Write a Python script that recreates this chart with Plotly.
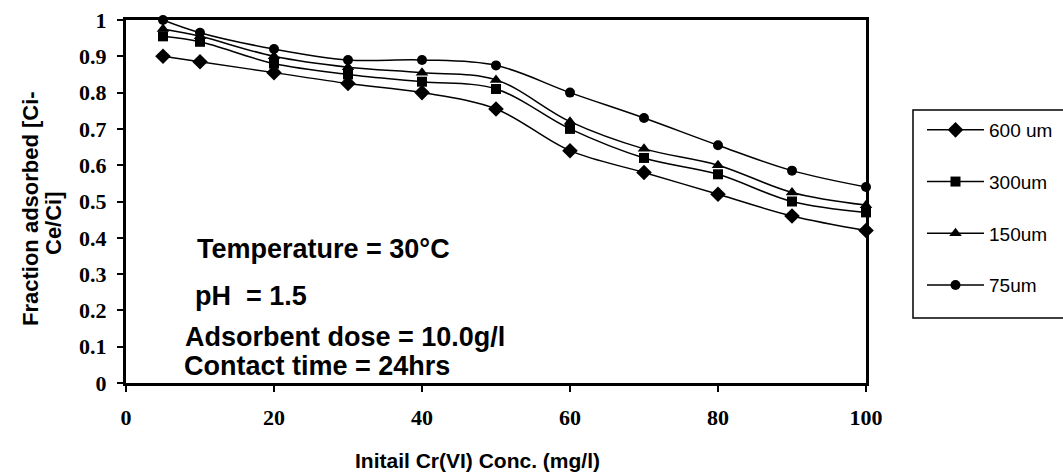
import plotly.graph_objects as go

# Initial Cr(VI) concentration (mg/l)
conc = [5, 10, 20, 30, 40, 50, 60, 70, 80, 90, 100]

# Fraction adsorbed for each particle size
frac_600 = [0.90, 0.885, 0.855, 0.825, 0.80, 0.755, 0.64, 0.58, 0.52, 0.46, 0.42]
frac_300 = [0.955, 0.94, 0.88, 0.85, 0.83, 0.81, 0.70, 0.62, 0.575, 0.50, 0.47]
frac_150 = [0.975, 0.955, 0.90, 0.87, 0.855, 0.835, 0.72, 0.645, 0.60, 0.525, 0.49]
frac_75 = [1.0, 0.965, 0.92, 0.89, 0.89, 0.875, 0.80, 0.73, 0.655, 0.585, 0.54]

series_names = ["600 um", "300um", "150um", "75um"]
series_values = [frac_600, frac_300, frac_150, frac_75]
series_symbols = ["diamond", "square", "triangle-up", "circle"]
series_sizes = [12, 10, 11, 10]

conditions = [
    "Temperature = 30°C",
    "pH&nbsp; = 1.5",
    "Adsorbent dose = 10.0g/l",
    "Contact time = 24hrs",
]

W, H = 1063, 475
L, R, T, B = 126, 197, 20, 92
pw, ph = W - L - R, H - T - B


def px(xpix):
    return (xpix - L) / pw


def py(ypix):
    return (H - B - ypix) / ph


fig = go.Figure()
for i, (name, vals, sym, sz) in enumerate(zip(series_names, series_values, series_symbols, series_sizes)):
    fig.add_trace(go.Scatter(
        x=conc, y=vals, name=name, mode="lines+markers",
        line=dict(color="black", width=1.5, shape="spline"),
        marker=dict(symbol=sym, size=sz, color="black"),
        legendgroup=f"g{i}", cliponaxis=False,
    ))

sans = "Liberation Sans, Arial, sans-serif"
serif = "Liberation Serif, Times New Roman, serif"
tick_font = dict(family=serif, size=22, color="black", weight="bold")

fig.update_layout(
    width=W, height=H,
    margin=dict(l=L, r=R, t=T, b=B, autoexpand=False),
    paper_bgcolor="white", plot_bgcolor="white",
    showlegend=True,
    legend=dict(
        xref="container", yref="container",
        x=922 / W, y=1 - 111 / H, xanchor="left", yanchor="top",
        font=dict(family=sans, size=19, color="black"),
        bgcolor="rgba(0,0,0,0)", borderwidth=0,
        traceorder="grouped", tracegroupgap=24, itemwidth=57,
    ),
    xaxis=dict(
        range=[0, 100], tickvals=[0, 20, 40, 60, 80, 100],
        showgrid=False, zeroline=False,
        showline=True, linecolor="black", linewidth=3, mirror=True,
        ticks="outside", ticklen=6, tickwidth=2, tickcolor="black",
        tickfont=tick_font, ticklabelstandoff=7,
    ),
    yaxis=dict(
        range=[0, 1], dtick=0.1, tick0=0,
        showgrid=False, zeroline=False,
        showline=True, linecolor="black", linewidth=3, mirror=True,
        ticks="outside", ticklen=6, tickwidth=2, tickcolor="black",
        tickfont=tick_font, ticklabelstandoff=6,
    ),
)

# Legend frame
fig.add_shape(type="rect", xref="paper", yref="paper",
              x0=px(913), x1=px(1075), y0=py(318), y1=py(110),
              line=dict(color="black", width=1.5), fillcolor="rgba(0,0,0,0)")

# Experimental conditions
cond_pos = [(195, 249), (193, 296), (183, 337), (182, 366)]
for txt, (xp, yp) in zip(conditions, cond_pos):
    fig.add_annotation(text=txt, xref="paper", yref="paper", x=px(xp), y=py(yp),
                       xanchor="left", yanchor="middle", showarrow=False,
                       font=dict(family=sans, size=27, color="black", weight="bold"))

# Axis titles
fig.add_annotation(text="Fraction adsorbed [Ci-", xref="paper", yref="paper",
                   x=px(30), y=py(209), textangle=-90, showarrow=False,
                   xanchor="center", yanchor="middle",
                   font=dict(family=sans, size=22, color="black", weight="bold"))
fig.add_annotation(text="Ce/Ci]", xref="paper", yref="paper",
                   x=px(53), y=py(223), textangle=-90, showarrow=False,
                   xanchor="center", yanchor="middle",
                   font=dict(family=sans, size=22, color="black", weight="bold"))
fig.add_annotation(text="Initail Cr(VI) Conc. (mg/l)", xref="paper", yref="paper",
                   x=px(353), y=py(460), showarrow=False,
                   xanchor="left", yanchor="middle",
                   font=dict(family=sans, size=21, color="black", weight="bold"))

fig.write_html("out.html")
